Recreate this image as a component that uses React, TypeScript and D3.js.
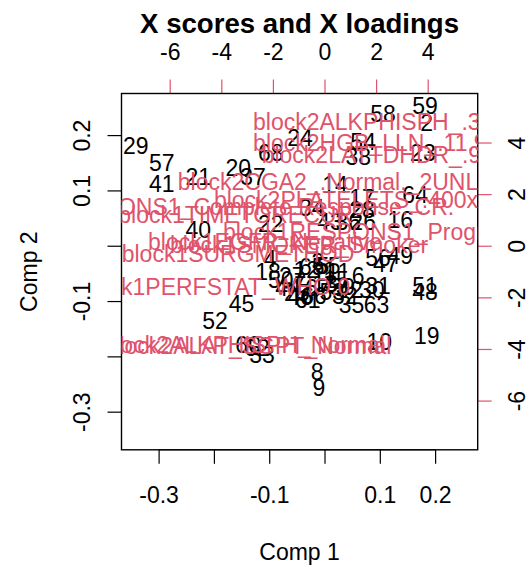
import React from "react";
import * as d3 from "d3";

// ---- data ----
const scoreLabels = ["29","57","41","21","20","37","24","68","40","22","58","59","2","54","38","23","14","17","64","16","34","43","36","26","28","45","52","60","62","33","8","9","10","19","51","48","35","63","56","49","47","6","39","42","30","31","55","65","18","4","50","61","66","46","25","3","5","1","7","11","13","27","32","53","67","12","15","44"];
const scoreX = [-0.342,-0.295,-0.295,-0.229,-0.157,-0.130,-0.045,-0.098,-0.229,-0.098,0.105,0.181,0.184,0.069,0.060,0.177,0.018,0.067,0.163,0.136,-0.024,0.009,0.042,0.069,0.067,-0.151,-0.199,-0.139,-0.123,-0.114,-0.014,-0.011,0.098,0.184,0.181,0.181,0.048,0.093,0.096,0.136,0.110,0.060,0.031,0.045,0.085,0.096,0.005,-0.024,-0.103,-0.099,-0.080,-0.031,-0.020,-0.045,-0.051,-0.013,-0.004,0.009,-0.045,0.024,0.000,-0.060,0.036,0.013,-0.013,-0.034,0.020,-0.067];
const scoreY = [0.181,0.150,0.112,0.125,0.141,0.125,0.195,0.168,0.029,0.040,0.239,0.254,0.222,0.188,0.161,0.168,0.111,0.087,0.093,0.047,0.069,0.044,0.044,0.043,0.065,-0.105,-0.135,-0.179,-0.184,-0.197,-0.227,-0.257,-0.173,-0.162,-0.072,-0.083,-0.106,-0.106,-0.021,-0.018,-0.032,-0.054,-0.074,-0.079,-0.079,-0.072,-0.036,-0.037,-0.047,-0.023,-0.061,-0.097,-0.090,-0.092,-0.085,-0.029,-0.036,-0.043,-0.065,-0.047,-0.068,-0.054,-0.090,-0.083,-0.076,-0.043,-0.061,-0.076];

const loadingLabels = [
  "block2ALKPHISPH_.3",
  "block2HGB_LLN_.11.9",
  "block2LATTDHDR_.9",
  "block2CGA2_.Normal._2UNL",
  "block2PLATELETS_.400x10.9.L",
  "block1RESPONS1_Complete.Response..CR.",
  "block1TIMETORECUR",
  "block1RESPONS1_Progressive.Disease",
  "block1EGFR_Negative",
  "block1SMOKER_Smoker",
  "block1SURGMETHOD",
  "block1PERFSTAT_WHO.0",
  "block2ALKPHISPH_Normal",
  "block2ALAT_SGPT_Normal",
];
const loadingX = [1.62, 1.74, 1.798, 0.116, 2.054, -4.012, -3.465, 4.097, -2.326, -1.008, -3.372, -4.283, -3.151, -2.946];
const loadingY = [4.814, 4.0, 3.535, 2.488, 1.791, 1.519, 1.209, 0.55, 0.163, 0.047, -0.302, -1.581, -3.829, -3.868];

const scoreTicks = [-0.3, -0.2, -0.1, 0, 0.1, 0.2];
const scoreTickLabelsX = ["-0.3", "", "-0.1", "", "0.1", "0.2"];
const scoreTickLabelsY = ["-0.3", "", "-0.1", "", "0.1", "0.2"];
const loadingTicks = [-6, -4, -2, 0, 2, 4];

const scoreDomain = [-0.368, 0.2761];
const loadingDomain = [-7.888, 5.919];

const title = "X scores and X loadings";
const xLabel = "Comp 1";
const yLabel = "Comp 2";

export default function App() {
  const L = 121.5, R = 477.7, T = 93.5, B = 449.8;
  const x = d3.scaleLinear().domain(scoreDomain).range([L, R]);
  const y = d3.scaleLinear().domain(scoreDomain).range([B, T]);
  const lx = d3.scaleLinear().domain(loadingDomain).range([L, R]);
  const ly = d3.scaleLinear().domain(loadingDomain).range([B, T]);
  const red = "#DF536B";
  const font = "'Liberation Sans', Arial, Helvetica, sans-serif";
  const fs = 23;
  const tick = 14;

  return (
    <svg
      width={529}
      height={565}
      style={{ position: "absolute", left: 0, top: 0, background: "#fff" }}
      fontFamily={font}
    >
      <defs>
        <clipPath id="plotClip">
          <rect x={L} y={T} width={R - L} height={B - T} />
        </clipPath>
      </defs>
      <rect width={529} height={565} fill="#fff" />
      <text x={(L + R) / 2} y={23} fontSize={27.6} fontWeight="bold" textAnchor="middle" dominantBaseline="central">
        {title}
      </text>

      {/* bottom axis */}
      <line x1={x(scoreTicks[0])} x2={x(scoreTicks[scoreTicks.length - 1])} y1={B} y2={B} stroke="#000" />
      {scoreTicks.map((t, i) => (
        <g key={"bx" + i}>
          <line x1={x(t)} x2={x(t)} y1={B} y2={B + tick} stroke="#000" strokeWidth={1.2} />
          {scoreTickLabelsX[i] && (
            <text x={x(t)} y={494.7} fontSize={fs} textAnchor="middle" dominantBaseline="central">
              {scoreTickLabelsX[i]}
            </text>
          )}
        </g>
      ))}
      {/* left axis */}
      {scoreTicks.map((t, i) => (
        <g key={"ly" + i}>
          <line x1={L - tick} x2={L} y1={y(t)} y2={y(t)} stroke="#000" strokeWidth={1.2} />
          {scoreTickLabelsY[i] && (
            <text
              transform={`translate(${82},${y(t)}) rotate(-90)`}
              fontSize={fs}
              textAnchor="middle"
              dominantBaseline="central"
            >
              {scoreTickLabelsY[i]}
            </text>
          )}
        </g>
      ))}
      <text x={(L + R) / 2} y={552} fontSize={fs} textAnchor="middle" dominantBaseline="central">
        {xLabel}
      </text>
      <text transform={`translate(${29},${(T + B) / 2}) rotate(-90)`} fontSize={fs} textAnchor="middle" dominantBaseline="central">
        {yLabel}
      </text>

      {/* scores */}
      <g clipPath="url(#plotClip)">
        {scoreLabels.map((lab, i) => (
          <text key={"s" + i} x={x(scoreX[i])} y={y(scoreY[i])} fontSize={fs} textAnchor="middle" dominantBaseline="central" fill="#000">
            {lab}
          </text>
        ))}
      </g>

      {/* top axis (loadings) */}
      <line x1={lx(loadingTicks[0])} x2={lx(loadingTicks[loadingTicks.length - 1])} y1={T} y2={T} stroke={red} />
      {loadingTicks.map((t, i) => (
        <g key={"tx" + i}>
          <line x1={lx(t)} x2={lx(t)} y1={T} y2={T - tick} stroke={red} strokeWidth={1.2} />
          <text x={lx(t)} y={52} fontSize={fs} textAnchor="middle" dominantBaseline="central">
            {String(t)}
          </text>
        </g>
      ))}
      {/* right axis (loadings) */}
      <line x1={R} x2={R} y1={ly(loadingTicks[0])} y2={ly(loadingTicks[loadingTicks.length - 1])} stroke={red} />
      {loadingTicks.map((t, i) => (
        <g key={"ry" + i}>
          <line x1={R} x2={R + tick} y1={ly(t)} y2={ly(t)} stroke={red} strokeWidth={1.2} />
          <text transform={`translate(${517},${ly(t)}) rotate(-90)`} fontSize={fs} textAnchor="middle" dominantBaseline="central">
            {String(t)}
          </text>
        </g>
      ))}

      {/* box */}
      <rect x={L} y={T} width={R - L} height={B - T} fill="none" stroke="#000" strokeWidth={1.4} />

      {/* loadings */}
      <g clipPath="url(#plotClip)">
        {loadingLabels.map((lab, i) => (
          <text key={"l" + i} x={lx(loadingX[i])} y={ly(loadingY[i])} fontSize={fs} textAnchor="middle" dominantBaseline="central" fill={red}>
            {lab}
          </text>
        ))}
      </g>
    </svg>
  );
}
